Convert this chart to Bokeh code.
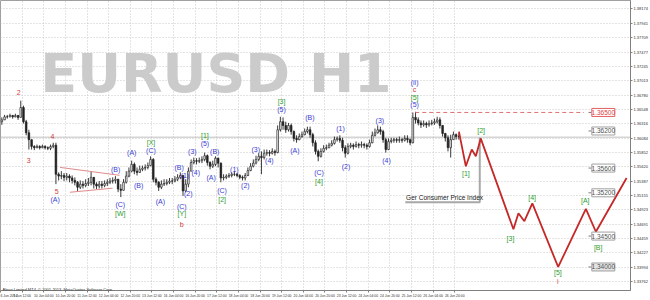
from bokeh.plotting import figure
from bokeh.models import FixedTicker, Label, PrintfTickFormatter
from bokeh.embed import file_html
from bokeh.resources import INLINE
from bokeh.core.properties import value

# ---------------- data (2-hour bars, hour index from 6 Jun 2014 20:00) ----------------
first_open = 13635
close_p = [13638,13643,13643,13645,13643,13645,13642,13658,13635,13617,
           13606,13595,13593,13595,13593,13595,13593,13592,13595,13597,
           13550,13547,13548,13545,13547,13544,13540,13537,13529,13534,
           13532,13535,13537,13545,13534,13531,13534,13532,13535,13537,
           13539,13540,13542,13526,13524,13537,13547,13555,13566,13555,
           13553,13558,13560,13561,13564,13574,13542,13537,13529,13534,
           13535,13537,13539,13539,13542,13545,13548,13523,13534,13555,
           13569,13572,13571,13572,13574,13580,13569,13563,13566,13576,
           13568,13544,13545,13547,13548,13550,13550,13548,13545,13544,
           13548,13556,13563,13568,13574,13579,13577,13584,13585,13584,
           13587,13585,13622,13635,13629,13622,13629,13619,13608,13606,
           13611,13614,13619,13622,13614,13601,13587,13579,13587,13592,
           13593,13597,13600,13606,13608,13605,13593,13584,13595,13597,
           13595,13598,13597,13598,13597,13595,13601,13613,13617,13622,
           13619,13606,13590,13603,13605,13606,13605,13606,13605,13608,
           13606,13601,13642,13638,13633,13630,13632,13630,13632,13633,
           13635,13638,13629,13616,13609,13593,13606,13614,13611,13611]
high_p = [13642,13646,13646,13648,13646,13648,13646,13669,13661,13638,
          13622,13606,13597,13598,13597,13598,13597,13595,13598,13601,
          13601,13553,13555,13552,13552,13550,13548,13545,13539,13540,
          13539,13542,13544,13555,13545,13537,13539,13539,13540,13542,
          13544,13545,13547,13542,13534,13542,13555,13561,13572,13569,
          13561,13564,13564,13566,13569,13579,13576,13545,13539,13540,
          13542,13542,13544,13544,13547,13550,13553,13548,13542,13561,
          13574,13577,13576,13577,13579,13585,13582,13571,13572,13579,
          13577,13569,13550,13550,13552,13553,13555,13552,13550,13548,
          13552,13561,13568,13574,13580,13584,13587,13590,13590,13589,
          13592,13590,13629,13643,13642,13635,13633,13632,13621,13613,
          13616,13619,13624,13627,13627,13617,13605,13590,13592,13597,
          13598,13601,13605,13611,13611,13613,13609,13597,13600,13601,
          13600,13603,13601,13603,13601,13600,13606,13619,13624,13629,
          13627,13622,13609,13608,13609,13609,13609,13611,13609,13613,
          13613,13608,13650,13651,13642,13637,13637,13635,13637,13638,
          13640,13643,13642,13629,13617,13613,13614,13619,13616,13616]
low_p = [13630,13638,13640,13642,13640,13642,13638,13642,13632,13613,
         13590,13590,13589,13592,13590,13592,13590,13589,13589,13592,
         13534,13540,13542,13539,13540,13537,13535,13532,13523,13526,
         13527,13529,13531,13532,13527,13526,13527,13527,13529,13531,
         13534,13535,13535,13521,13513,13524,13535,13545,13553,13550,
         13548,13552,13555,13556,13558,13563,13537,13532,13523,13526,
         13531,13532,13534,13534,13537,13539,13542,13515,13521,13529,
         13555,13566,13566,13568,13568,13571,13564,13558,13560,13563,
         13561,13537,13540,13542,13544,13545,13547,13545,13542,13540,
         13540,13547,13555,13561,13566,13571,13550,13574,13580,13579,
         13582,13580,13584,13619,13622,13617,13619,13614,13603,13601,
         13605,13609,13613,13616,13609,13595,13582,13571,13577,13585,
         13589,13592,13595,13598,13603,13601,13587,13577,13582,13592,
         13590,13593,13592,13593,13592,13590,13593,13600,13611,13616,
         13614,13601,13585,13589,13600,13601,13601,13601,13601,13603,
         13601,13597,13600,13632,13629,13625,13627,13625,13627,13629,
         13630,13632,13624,13611,13603,13587,13577,13606,13606,13606]

time_ticks = [0, 16, 32, 48, 64, 80, 96, 112, 128, 144, 160, 176, 192, 208,
              224, 240, 256, 272, 288, 304, 320, 336]
time_labels = ["6 Jun 2014", "9 Jun 12:00", "10 Jun 04:00", "10 Jun 20:00",
               "11 Jun 12:00", "12 Jun 04:00", "12 Jun 20:00", "13 Jun 12:00",
               "16 Jun 04:00", "16 Jun 20:00", "17 Jun 12:00", "18 Jun 04:00",
               "18 Jun 20:00", "19 Jun 12:00", "20 Jun 04:00", "20 Jun 20:00",
               "23 Jun 12:00", "24 Jun 04:00", "24 Jun 20:00", "25 Jun 12:00",
               "26 Jun 04:00", "26 Jun 20:00"]
price_ticks = [1.38174, 1.37941, 1.37709, 1.37477, 1.37245, 1.37013, 1.36780,
               1.36548, 1.36316, 1.36084, 1.35852, 1.35620, 1.35387, 1.35155,
               1.34923, 1.34691, 1.34459, 1.34227, 1.33994, 1.33762]

# projected wave path
proj_hours = [339.1, 344.2, 348.6, 351.6, 355.2, 379.4, 383.1, 387.5, 393.4,
              412.5, 433.0, 440.4, 463.1]
proj_price = [1.3619, 1.3563, 1.3590, 1.3579, 1.3608, 1.3461, 1.3487, 1.3474,
              1.3503, 1.3400, 1.3494, 1.3457, 1.3544]

# wave labels: text, hour, price, colour group
wave_text = ["2", "3", "4", "5", "(A)", "(B)", "(C)", "[W]", "(A)", "(B)", "(C)", "[X]",
             "(A)", "(B)", "(C)", "[Y]", "b", "(1)", "(2)", "(3)", "(4)", "(5)", "[1]",
             "(A)", "(B)", "(C)", "[2]", "(1)", "(2)", "(3)", "(4)", "(5)", "[3]",
             "(A)", "(B)", "(C)", "[4]", "(1)", "(2)", "(3)", "(4)",
             "(ii)", "c", "[5]", "(5)",
             "[1]", "[2]", "[3]", "[4]", "[5]", "i", "[A]", "[B]"]
wave_hour = [13.4, 20.8, 38.4, 41.6, 40.4, 85.1, 88.6, 88.6, 97.1, 102.2, 111.3, 111.3,
             118.2, 132.1, 134.1, 134.1, 134.1, 136.5, 138.9, 141.9, 144.4, 151.2, 151.2,
             155.8, 158.5, 163.9, 163.9, 173.0, 181.1, 188.8, 198.9, 207.9, 207.9,
             217.8, 228.8, 235.6, 235.6, 251.5, 255.6, 280.6, 285.5,
             306.3, 306.3, 306.3, 306.3,
             344.2, 355.5, 377.2, 393.2, 412.3, 412.3, 432.5, 442.1]
wave_price = [1.36828, 1.35724, 1.36114, 1.35214, 1.35086, 1.35579, 1.35017, 1.34872,
              1.35857, 1.35322, 1.35885, 1.36018,
              1.35060, 1.35606, 1.34980, 1.34861, 1.34695, 1.35483, 1.35189, 1.35873,
              1.35536, 1.35992, 1.36130,
              1.35446, 1.35873, 1.35242, 1.35086, 1.35579, 1.35311, 1.35901, 1.35729,
              1.36543, 1.36677,
              1.35889, 1.36426, 1.35526, 1.35382, 1.36233, 1.35632, 1.36367, 1.35724,
              1.36982, 1.36876, 1.36747, 1.36624,
              1.35515, 1.36211, 1.34466, 1.35124, 1.33903, 1.33758, 1.35070, 1.34321]
wave_group = ["r", "r", "r", "r", "b", "b", "b", "g", "b", "b", "b", "g",
              "b", "b", "b", "g", "r", "b", "b", "b", "b", "b", "g",
              "b", "b", "b", "g", "b", "b", "b", "b", "b", "g",
              "b", "b", "b", "g", "b", "b", "b", "b",
              "b", "r", "g", "b",
              "g", "g", "g", "g", "g", "r", "g", "g"]

levels = [1.3650, 1.3620, 1.3560, 1.3520, 1.3450, 1.3400]
level_text = ["1.36500", "1.36200", "1.35600", "1.35200", "1.34500", "1.34000"]

tri_upper_h = [44.0, 88.1]
tri_upper_p = [1.35611, 1.35483]
tri_lower_h = [51.4, 82.9]
tri_lower_p = [1.35209, 1.35274]

bid_price = 1.3610
bid_text = "1.36105"
event_hour = 354.5
event_text = "Ger Consumer Price Index"

# ---------------- figure ----------------
PX_PER_UNIT = 6224.0
TOP_PRICE = 1.38311
FRAME_H = 292
p = figure(width=650, height=300, output_backend="svg", toolbar_location=None,
           x_range=(0, 466), y_range=(TOP_PRICE - FRAME_H / PX_PER_UNIT, TOP_PRICE),
           y_axis_location="right", min_border_left=0, min_border_top=0,
           min_border_right=0, min_border_bottom=0)
p.background_fill_color = "white"
p.border_fill_color = "white"
p.outline_line_color = "#a0a0a0"

for ax in (p.xaxis[0], p.yaxis[0]):
    ax.axis_line_color = "#808080"
    ax.major_tick_line_color = "#808080"
    ax.major_tick_out = 2
    ax.major_tick_in = 0
    ax.minor_tick_line_color = None
    ax.major_label_text_font_size = "4px"
    ax.major_label_text_color = "#303030"
    ax.major_label_standoff = 1
    ax.major_label_text_font = "Liberation Sans"

p.xaxis.ticker = FixedTicker(ticks=time_ticks)
p.xaxis.major_label_overrides = {t: s for t, s in zip(time_ticks, time_labels)}
p.xaxis.major_label_text_align = "left"
p.xaxis.major_label_text_font_size = "3.4px"
p.yaxis.ticker = FixedTicker(ticks=price_ticks)
p.yaxis.formatter = PrintfTickFormatter(format="%.5f")

p.xgrid.ticker = FixedTicker(ticks=time_ticks)
p.ygrid.ticker = FixedTicker(ticks=price_ticks)
for g in (p.xgrid[0], p.ygrid[0]):
    g.grid_line_color = "#c8c8c8"
    g.grid_line_dash = "1 2"

# watermark
p.add_layout(Label(x=29.4, y=1.37122, text="EURUSD H1", text_font="DejaVu Sans",
                   text_font_style="bold", text_font_size="54px", text_color="#cbcbcb",
                   text_baseline="alphabetic", level="underlay"))

# bid line
p.line([0, 466], [bid_price, bid_price], line_color="#c0c0c0", line_width=1)

# candles
opens = [first_open] + close_p[:-1]
xs = [2 * k + 1 for k in range(len(close_p))]
o = [v / 1e4 for v in opens]
c = [v / 1e4 for v in close_p]
h = [max(a, b, d) / 1e4 for a, b, d in zip(high_p, opens, close_p)]
l = [min(a, b, d) / 1e4 for a, b, d in zip(low_p, opens, close_p)]
p.segment(xs, h, xs, l, line_color="#222222", line_width=0.9)
up = [i for i in range(len(xs)) if c[i] >= o[i]]
dn = [i for i in range(len(xs)) if c[i] < o[i]]
p.vbar([xs[i] for i in up], 1.2, [o[i] for i in up], [c[i] for i in up],
       fill_color="white", line_color="#222222", line_width=0.7)
p.vbar([xs[i] for i in dn], 1.2, [c[i] for i in dn], [o[i] for i in dn],
       fill_color="#222222", line_color="#222222", line_width=0.7)

# triangle lines
p.line(tri_upper_h, tri_upper_p, line_color="#e08a8a", line_width=1)
p.line(tri_lower_h, tri_lower_p, line_color="#e08a8a", line_width=1)

# red dashed resistance
p.line([306.8, 431.6], [levels[0], levels[0]], line_color="#e07070", line_width=1,
       line_dash="4 3")

# event marker
p.line([299.4, event_hour, event_hour], [1.35049, 1.35049, 1.36093],
       line_color="#a8a8a8", line_width=2)
p.text([300.0], [1.35130], [event_text], text_font=value("Liberation Sans"),
       text_font_size="6.5px", text_color="#202020", text_baseline="middle",
       text_align="left")

# projection
p.line(proj_hours, proj_price, line_color="#c62828", line_width=1.8)

# level boxes
lv_line = ["#e06060"] + ["#a0a0a0"] * 5
lv_txt = ["#e04040"] + ["#505050"] * 5
lv_fill = ["white"] * 5 + ["#e4e4e4"]
p.segment([434.9] * 6, levels, [437.1] * 6, levels, line_color="#808080", line_width=1)
p.rect([445.9] * 6, levels, width=23, height=8, width_units="screen",
       height_units="screen", fill_color=lv_fill, line_color=lv_line, line_width=1)
p.text([445.9] * 6, levels, level_text, text_font=value("Liberation Sans"),
       text_font_size="6.5px", text_color=lv_txt, text_align="center",
       text_baseline="middle")

# wave labels
cmap = {"r": "#d03a3a", "b": "#3c3cd2", "g": "#2e9e2e"}
p.text(wave_hour, wave_price, wave_text, text_font=value("Liberation Sans"),
       text_font_size="7px", text_color=[cmap[g] for g in wave_group],
       text_align="center", text_baseline="middle")

# copyright
p.add_layout(Label(x=1.5, y=1.33640, text="Alpari Limited MT4, \u00a9 2001-2013, MetaQuotes Software Corp.",
                   text_font="Liberation Sans", text_font_size="4px", text_color="#303030",
                   text_baseline="middle"))

# current price tag on the axis
p.add_layout(Label(x=467.0, y=bid_price, text=bid_text, text_font="Liberation Sans",
                   text_font_size="4px", text_color="white", text_baseline="middle",
                   background_fill_color="black", padding=1))

open("out.html", "w").write(file_html(p, INLINE))
